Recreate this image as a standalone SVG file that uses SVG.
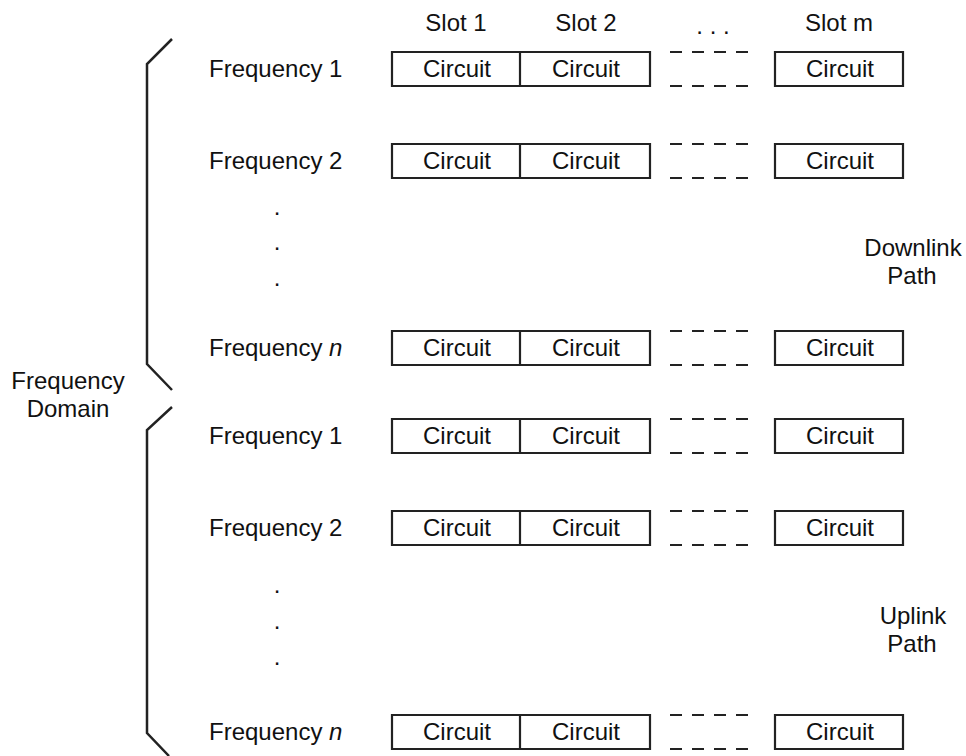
<svg xmlns="http://www.w3.org/2000/svg" width="966" height="756" viewBox="0 0 966 756">
<style>
text{font-family:"Liberation Sans",Arial,sans-serif;font-size:24px;fill:#111}
.c{text-anchor:middle}
.box{fill:none;stroke:#222;stroke-width:2.2}
.dash{fill:none;stroke:#222;stroke-width:2.2;stroke-dasharray:12 10}
.br{fill:none;stroke:#222;stroke-width:2.5}
</style>
<defs>
<g id="row">
<path class="box" d="M650,0 H392 V34 H650 Z M520,0 V34 M775,0 H903 V34 H775 Z"/>
<path class="dash" d="M670,0 H748 M670,34 H748"/>
<text class="c" x="457" y="25">Circuit</text>
<text class="c" x="586" y="25">Circuit</text>
<text class="c" x="840" y="25">Circuit</text>
</g>
</defs>
<rect width="966" height="756" fill="#fff"/>
<g id="header">
<text class="c" x="456" y="31">Slot 1</text>
<text class="c" x="586" y="31">Slot 2</text>
<text class="c" x="713" y="34">. . .</text>
<text class="c" x="839" y="31">Slot m</text>
</g>
<g id="braces">
<path class="br" d="M172,39 L147,64 V364 L172,390"/>
<path class="br" d="M172,407 L147,430 V733 L169,756"/>
</g>
<g id="domain"><text class="c" x="68" y="389">Frequency</text><text class="c" x="68" y="417">Domain</text></g>
<g id="down-f1"><text x="209" y="77">Frequency 1</text><use href="#row" y="52"/></g>
<g id="down-f2"><text x="209" y="169">Frequency 2</text><use href="#row" y="144"/></g>
<g id="down-dots"><text class="c" x="277" y="215">.</text><text class="c" x="277" y="250">.</text><text class="c" x="277" y="286">.</text></g>
<g id="down-fn"><text x="209" y="356">Frequency <tspan font-style="italic">n</tspan></text><use href="#row" y="331"/></g>
<g id="downlink"><text class="c" x="913" y="256">Downlink</text><text class="c" x="912" y="284">Path</text></g>
<g id="up-f1"><text x="209" y="444">Frequency 1</text><use href="#row" y="419"/></g>
<g id="up-f2"><text x="209" y="536">Frequency 2</text><use href="#row" y="511"/></g>
<g id="up-dots"><text class="c" x="277" y="593">.</text><text class="c" x="277" y="629">.</text><text class="c" x="277" y="665">.</text></g>
<g id="up-fn"><text x="209" y="740">Frequency <tspan font-style="italic">n</tspan></text><use href="#row" y="715"/></g>
<g id="uplink"><text class="c" x="913" y="624">Uplink</text><text class="c" x="912" y="652">Path</text></g>
</svg>
